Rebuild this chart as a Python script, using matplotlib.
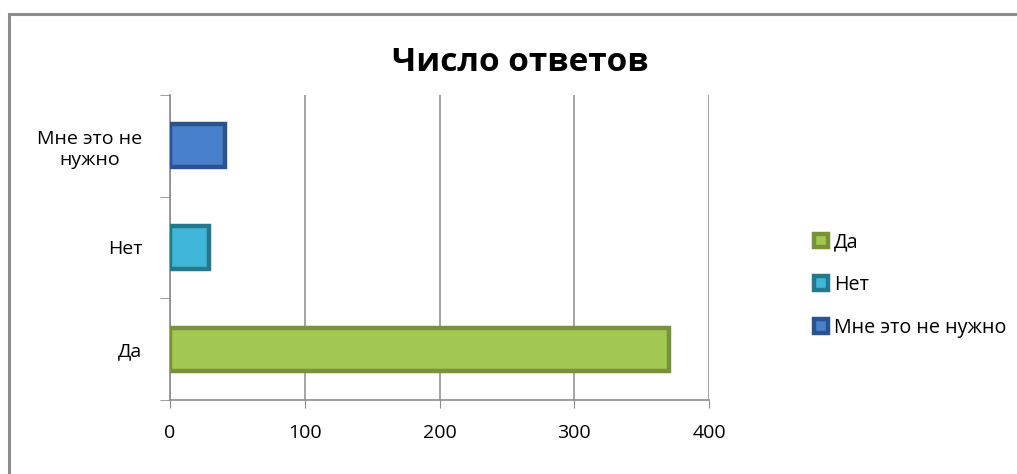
"""
    Number of answers chart (horizontal bars).
"""

import matplotlib
matplotlib.use("Agg")
import matplotlib.pyplot as plt
from matplotlib.patches import Rectangle

plt.rcParams['font.family'] = ['Open Sans', 'DejaVu Sans']

TITLE = "Число ответов"
categories = ["Да", "Нет", "Мне это не\nнужно"]
legend_names = ["Да", "Нет", "Мне это не нужно"]
values = [370, 29, 41]
x_ticks = [0, 100, 200, 300, 400]

face_colors = ["#a2c852", "#40b6d8", "#4880cc"]
edge_colors = ["#76923a", "#24798f", "#2a5490"]


def main():
    fig = plt.figure(figsize=(10.17, 4.74), dpi=100)
    ax = fig.add_axes([0.1672, 0.1561, 0.53, 0.6435])

    # chart border (top and left visible)
    fig.add_artist(Rectangle((0.0085, -0.05), 1.2, 1.0205, transform=fig.transFigure,
                             fill=False, edgecolor="#8c8c8c", linewidth=2.2))

    for i, (val, fc, ec, name) in enumerate(zip(values, face_colors, edge_colors, legend_names)):
        ax.barh(i, val, height=0.42, color=fc, edgecolor=ec, linewidth=3.2, label=name, zorder=3)

    ax.set_xlim(0, 400)
    ax.set_ylim(-0.5, 2.5)
    ax.set_xticks(x_ticks)
    ax.set_xticklabels([str(t) for t in x_ticks], fontsize=14)
    ax.set_yticks(range(len(categories)))
    ax.set_yticklabels(categories, fontsize=14, multialignment="center")
    ax.tick_params(axis="y", length=0, pad=20)
    ax.tick_params(axis="x", length=6, color="#8c8c8c", pad=11)
    # category boundary ticks
    ax.set_yticks([-0.5, 0.5, 1.5, 2.5], minor=True)
    ax.tick_params(axis="y", which="minor", length=7, color="#8c8c8c")

    ax.grid(axis="x", color="#8c8c8c", linewidth=1.1, zorder=0)
    for side in ["top", "right"]:
        ax.spines[side].set_visible(False)
    for side in ["left", "bottom"]:
        ax.spines[side].set_color("#8c8c8c")
        ax.spines[side].set_linewidth(1.2)

    fig.text(0.512, 0.868, TITLE, fontsize=24, fontweight="bold", ha="center", va="center")

    ax.legend(loc="center left", bbox_to_anchor=(1.1626, 0.377), frameon=False, fontsize=14.2,
              handlelength=0.7, handleheight=0.7, handletextpad=0.3, labelspacing=1.15)

    plt.savefig("out.png", dpi=100)
    plt.close()


if __name__ == "__main__":
    main()
